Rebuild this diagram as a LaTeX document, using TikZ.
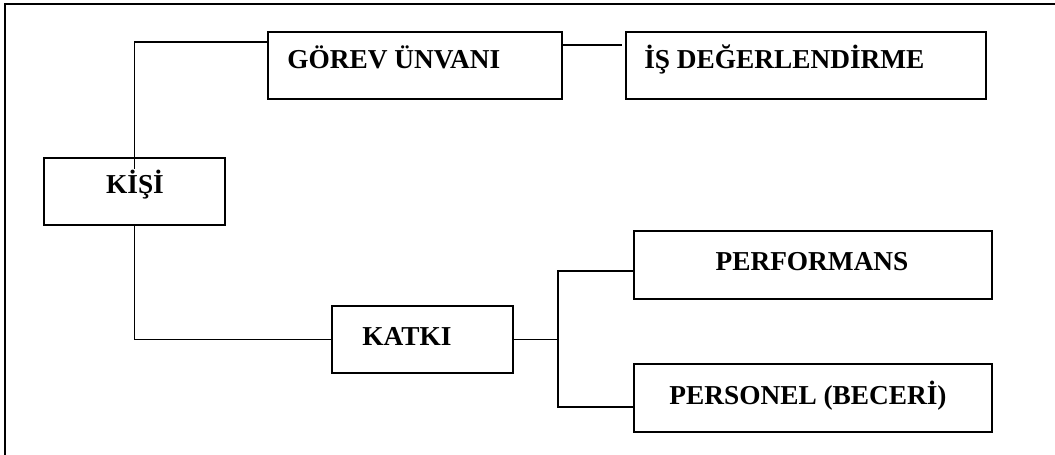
\documentclass[tikz,border=0pt]{standalone}
\usepackage{fontspec}
\setmainfont{Liberation Serif}
\usetikzlibrary{calc}
\tikzset{
  box/.style={draw, line width=1.7pt, inner sep=0pt, fill=none},
  conn/.style={draw, line width=1.3pt},
  frame/.style={draw, line width=1.8pt},
  lbl/.style={inner sep=0pt, font=\fontsize{20.5}{23}\selectfont\bfseries}
}
\begin{document}
\begin{tikzpicture}[x=0.75pt,y=-0.75pt]
\useasboundingbox (0,0) rectangle (1055,454);
\draw[frame] (1060,4) -- (5,4) -- (5,460);
% boxes
\node[box, minimum width=220.5pt, minimum height=50.25pt] (gorev) at (415,65.5) {};
\node[box, minimum width=270pt, minimum height=50.25pt] (is) at (806,65.5) {};
\node[box, minimum width=135.75pt, minimum height=50.25pt] (kisi) at (134.5,191.5) {};
\node[box, minimum width=135.75pt, minimum height=50.25pt] (katki) at (422.5,339.5) {};
\node[box, minimum width=268.5pt, minimum height=51pt] (perf) at (813,265) {};
\node[box, minimum width=268.5pt, minimum height=51pt] (pers) at (813,398) {};
% labels
\node[lbl, anchor=base west] (tgorev) at (287,68) {GÖREV ÜNVANI};
\node[lbl, anchor=base west] (tis) at (644,68) {İŞ DEĞERLENDİRME};
\node[lbl, anchor=base] (tkisi) at (135,193) {KİŞİ};
\node[lbl, anchor=base] (tkatki) at (407,345) {KATKI};
\node[lbl, anchor=base] (tperf) at (812,270) {PERFORMANS};
\node[lbl, anchor=base] (tpers) at (808,404) {PERSONEL (BECERİ)};
% connectors
\draw[conn] ($(kisi.north)+(0,12)$) |- ($(gorev.north west)+(0,11)$);
\draw[conn] ($(gorev.north east)+(0,14)$) -- ($(is.north west)+(-3,14)$);
\draw[conn] (kisi.south) |- (katki.west);
\coordinate (j) at (558,339.5);
\draw[conn] (katki.east) -- (j);
\draw[conn] ($(perf.west)+(0,6)$) -| (j) |- ($(pers.west)+(0,9)$);
\end{tikzpicture}
\end{document}
